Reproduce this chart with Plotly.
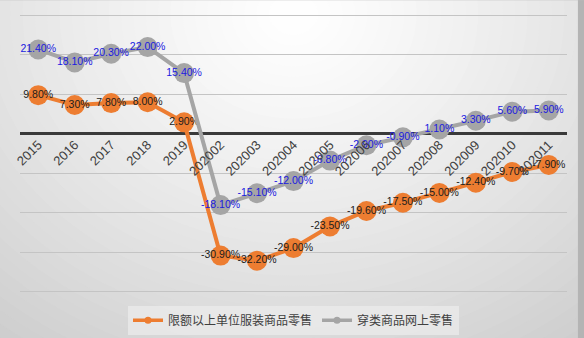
import numpy as np
import plotly.graph_objects as go

# Periods (annual 2015-2019, then monthly cumulative 2020)
categories = ["2015", "2016", "2017", "2018", "2019",
              "202002", "202003", "202004", "202005", "202006",
              "202007", "202008", "202009", "202010", "202011"]

# Year-on-year growth, %
retail_above_quota = [9.8, 7.3, 7.8, 8.0, 2.9,
                      -30.9, -32.2, -29.0, -23.5, -19.6,
                      -17.5, -15.0, -12.4, -9.7, -7.9]
online_apparel = [21.4, 18.1, 20.3, 22.0, 15.4,
                  -18.1, -15.1, -12.0, -6.8, -2.9,
                  -0.9, 1.1, 3.3, 5.6, 5.9]

series_names = ["限额以上单位服装商品零售", "穿类商品网上零售"]

y_min, y_max = -40, 30
pad = 0.4  # keeps the outermost gridlines inside the plot area

ORANGE = "#ED7D31"
GRAY = "#A5A5A5"
FONT = "Liberation Sans, Arial, Noto Sans CJK SC"

fig = go.Figure()

series = [
    (retail_above_quota, series_names[0], ORANGE, "#1c1c1c"),
    (online_apparel, series_names[1], GRAY, "#1a1ae0"),
]

for values, name, color, label_color in series:
    fig.add_trace(go.Scatter(
        x=categories, y=values, name=name, showlegend=False,
        mode="lines+markers+text",
        line=dict(color=color, width=4),
        marker=dict(color=color, size=20),
        text=[f"{v:.2f}%" for v in values],
        textposition="middle center",
        textfont=dict(family=FONT, size=10.5, color=label_color),
        cliponaxis=False,
    ))

# Compact legend entries with small markers
for values, name, color, _ in series:
    fig.add_trace(go.Scatter(
        x=[None], y=[None], name=name, mode="lines+markers",
        line=dict(color=color, width=3.5),
        marker=dict(color=color, size=7),
    ))

# Soft radial background: concentric ellipses fading to white at the top centre
shapes = []
n_rings = 40
for i in range(n_rings):
    t = 1.0 - i / n_rings
    level = int(round(255 - 50 * t ** 1.2))
    rx, ry = 0.9 * t, 1.5 * t
    shapes.append(dict(
        type="circle", xref="paper", yref="paper", layer="below",
        x0=0.5 - rx, x1=0.5 + rx, y0=1.0 - ry, y1=1.0 + ry,
        fillcolor=f"rgb({level},{level},{level})", line=dict(width=0),
    ))
# Shadowed right border and thin top edge
shapes.append(dict(type="rect", xref="paper", yref="paper", layer="below",
                   x0=1.020, x1=1.05, y0=-0.2, y1=1.1,
                   fillcolor="#b4b4b4", line=dict(width=0)))
shapes.append(dict(type="line", xref="paper", yref="paper", layer="below",
                   x0=-0.05, x1=1.05, y0=1.052, y1=1.052,
                   line=dict(color="#bdbdbd", width=1.5)))

lo, hi = y_min - pad, y_max + pad
zero_pos = (0 - lo) / (hi - lo)

fig.update_layout(
    width=584, height=338,
    margin=dict(l=20, r=17, t=14, b=45, autoexpand=False),
    paper_bgcolor="#d2d2d2",
    plot_bgcolor="rgba(0,0,0,0)",
    shapes=shapes,
    showlegend=True,
    legend=dict(
        orientation="h", x=0.5, xanchor="center",
        y=-0.098, yanchor="middle",
        font=dict(family="Noto Sans CJK SC", size=12, color="#404040"),
        bgcolor="rgba(240,240,240,0.6)",
        itemwidth=30,
    ),
    xaxis=dict(
        type="category", range=[-0.5, len(categories) - 0.5],
        anchor="free", position=zero_pos, automargin=False,
        showgrid=False, showline=False, ticks="",
        tickangle=-45,
        tickfont=dict(family=FONT, size=13, color="#404040"),
        layer="above traces",
    ),
    yaxis=dict(
        range=[lo, hi], tick0=0, dtick=10, automargin=False,
        showticklabels=False, ticks="",
        showgrid=True, gridcolor="#c4c4c4", gridwidth=1,
        zeroline=True, zerolinecolor="#3a3a3a", zerolinewidth=2.5,
    ),
)

fig.write_html("out.html")
